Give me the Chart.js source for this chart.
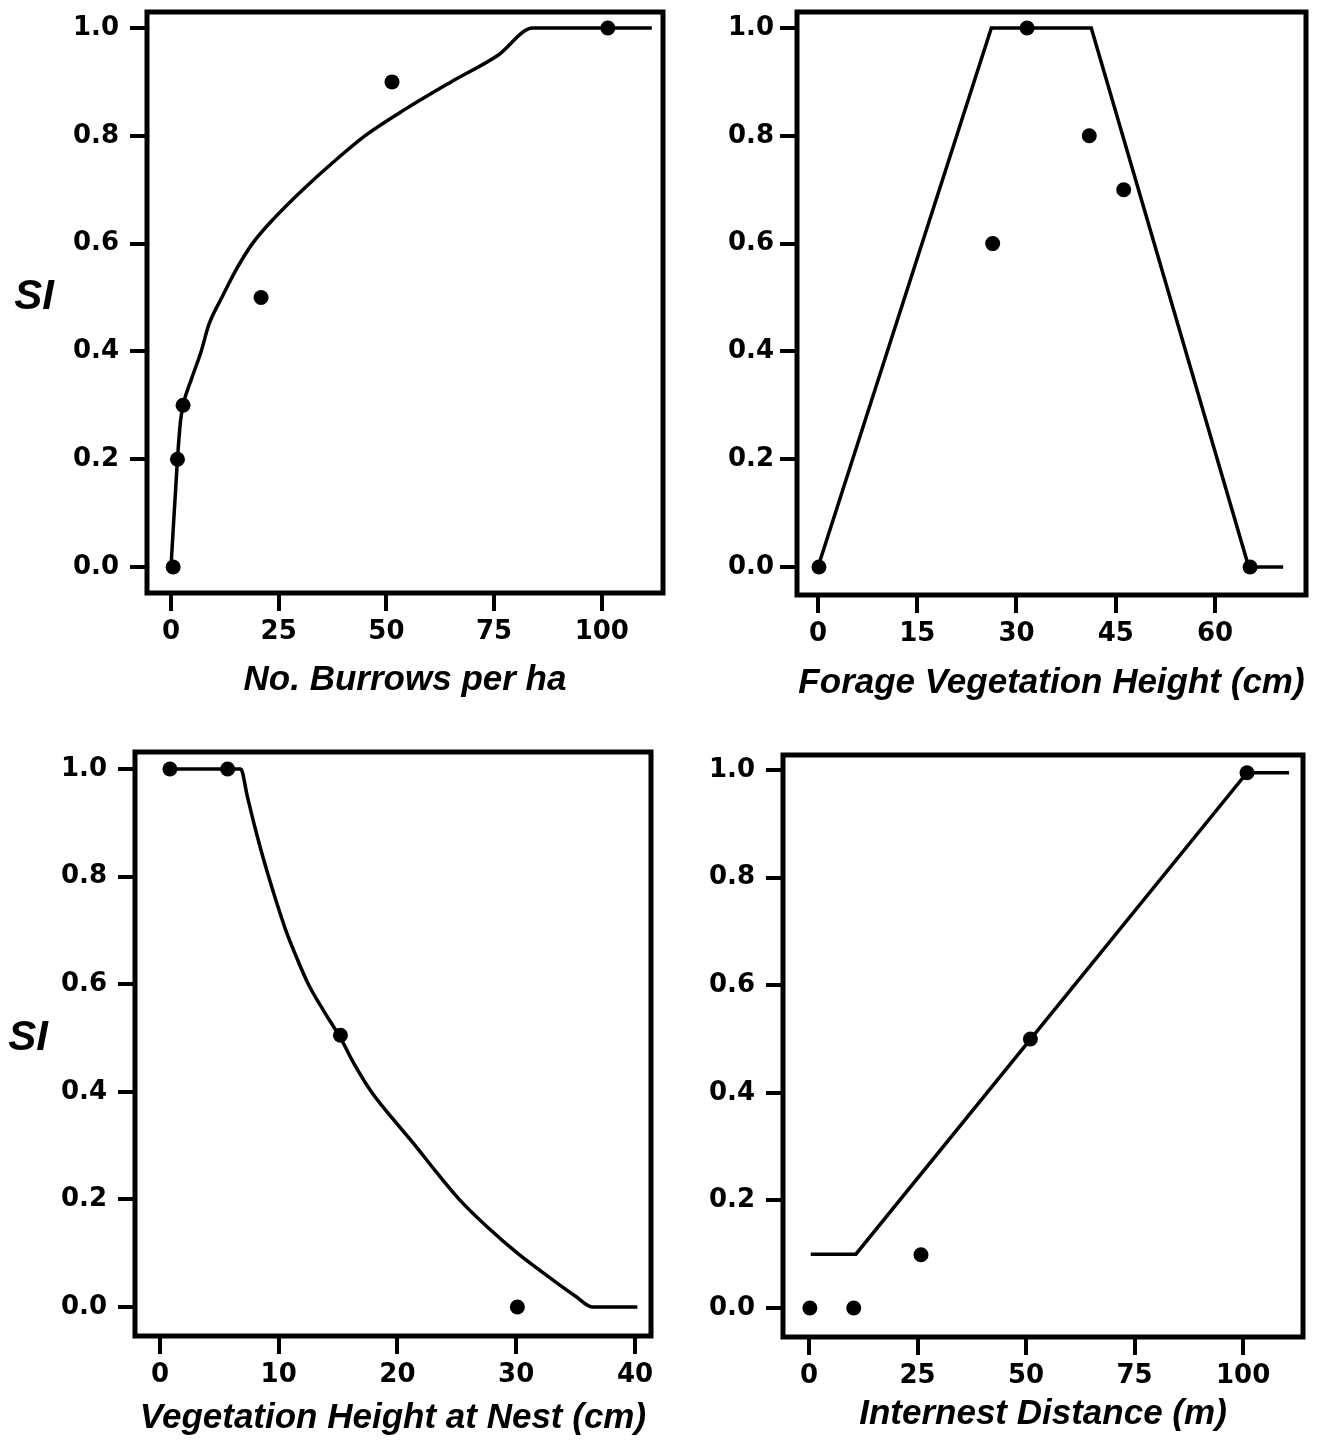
<!DOCTYPE html>
<html lang="en">
<head>
    <meta charset="UTF-8">
    <title>Suitability Index curves</title>
    <script src="https://cdn.jsdelivr.net/npm/chart.js"></script>
    <style>
        body {
            margin: 0;
            background-color: #fff;
        }
        #wrap {
            position: relative;
            width: 1317px;
            height: 1444px;
        }
        #wrap canvas {
            position: absolute;
        }
    </style>
</head>
<body>
    <div id="wrap">
        <canvas id="burrows" width="700" height="720" style="left:0;top:0"></canvas>
        <canvas id="forage" width="617" height="720" style="left:700px;top:0"></canvas>
        <canvas id="nestVeg" width="700" height="724" style="left:0;top:720px"></canvas>
        <canvas id="internest" width="617" height="724" style="left:700px;top:720px"></canvas>
    </div>

    <script>
        // SI tick labels shared by every panel
        const siTicks = [0, 0.2, 0.4, 0.6, 0.8, 1.0];

        // No. Burrows per ha
        const burrowsTicks = [0, 25, 50, 75, 100];
        const burrowsCurveX = [0, 1.5, 2.2, 2.8, 4.8, 7.0, 8.8, 11.8, 15, 18.9, 24.3, 30.6, 37.5, 45, 54.5, 65, 76, 84, 111.6];
        const burrowsCurveY = [0, 0.2, 0.27, 0.3, 0.35, 0.4, 0.45, 0.5, 0.55, 0.6, 0.65, 0.7, 0.75, 0.8, 0.85, 0.9, 0.95, 1.0, 1.0];
        const burrowsObsX = [0.5, 1.5, 2.8, 20.9, 51.3, 101.4];
        const burrowsObsY = [0, 0.2, 0.3, 0.5, 0.9, 1.0];

        // Forage Vegetation Height (cm)
        const forageTicks = [0, 15, 30, 45, 60];
        const forageCurveX = [0, 26.2, 41.3, 65.1, 70.3];
        const forageCurveY = [0, 1.0, 1.0, 0, 0];
        const forageObsX = [0.15, 26.4, 31.6, 41.0, 46.2, 65.3];
        const forageObsY = [0, 0.6, 1.0, 0.8, 0.7, 0];

        // Vegetation Height at Nest (cm)
        const nestTicks = [0, 10, 20, 30, 40];
        const nestCurveX = [0.84, 6.8, 7.35, 7.9, 8.5, 9.15, 9.85, 10.6, 11.5, 12.5, 13.8, 15.2, 16.4, 17.8, 19.6, 21.5, 23.3, 25.2, 27.5, 30.1, 33.1, 35.0, 36.4, 40.2];
        const nestCurveY = [1.0, 1.0, 0.95, 0.9, 0.85, 0.8, 0.75, 0.7, 0.65, 0.6, 0.55, 0.5, 0.45, 0.4, 0.35, 0.3, 0.25, 0.2, 0.15, 0.1, 0.05, 0.02, 0, 0];
        const nestObsX = [0.84, 5.7, 15.2, 30.1];
        const nestObsY = [1.0, 1.0, 0.505, 0];

        // Internest Distance (m)
        const internestTicks = [0, 25, 50, 75, 100];
        const internestCurveX = [0.4, 10.8, 100.9, 110.6];
        const internestCurveY = [0.1, 0.1, 0.995, 0.995];
        const internestObsX = [0.2, 10.3, 25.8, 51.0, 100.9];
        const internestObsY = [0, 0, 0.099, 0.5, 0.995];

        function pairs(xs, ys) {
            return xs.map((x, i) => ({ x: x, y: ys[i] }));
        }

        // Frame around the plot area and the horizontal "SI" label
        const framePlugin = {
            id: 'frame',
            afterDraw(chart, args, opts) {
                const { ctx, chartArea: a } = chart;
                ctx.save();
                ctx.strokeStyle = '#000';
                ctx.lineWidth = 5;
                ctx.strokeRect(a.left, a.top, a.right - a.left, a.bottom - a.top);
                if (opts.label) {
                    ctx.fillStyle = '#000';
                    ctx.font = 'italic bold 42px "Liberation Sans", Arial, sans-serif';
                    ctx.textAlign = 'center';
                    ctx.textBaseline = 'middle';
                    ctx.fillText(opts.label, opts.labelX, chart.scales.y.getPixelForValue(0.5));
                }
                ctx.restore();
            }
        };

        function makePanel(id, p) {
            return new Chart(document.getElementById(id), {
                type: 'scatter',
                data: {
                    datasets: [{
                        data: pairs(p.curveX, p.curveY),
                        showLine: true,
                        borderColor: '#000',
                        borderWidth: 3.5,
                        pointRadius: 0,
                        cubicInterpolationMode: p.smooth ? 'monotone' : 'default',
                        tension: 0
                    }, {
                        data: pairs(p.obsX, p.obsY),
                        pointRadius: 7.5,
                        pointBackgroundColor: '#000',
                        pointBorderWidth: 0
                    }]
                },
                options: {
                    responsive: false,
                    animation: false,
                    layout: { padding: p.padding },
                    plugins: {
                        legend: { display: false },
                        tooltip: { enabled: false },
                        frame: { label: p.siLabel, labelX: p.siX }
                    },
                    scales: {
                        x: {
                            type: 'linear',
                            min: p.xMin,
                            max: p.xMax,
                            afterBuildTicks: s => { s.ticks = p.xTicks.map(v => ({ value: v })); },
                            afterFit: s => { s.height = p.xHeight; s.paddingLeft = 0; s.paddingRight = 0; },
                            ticks: {
                                autoSkip: false,
                                maxRotation: 0,
                                padding: 6,
                                color: '#000',
                                font: { family: 'DejaVu Sans', weight: 'bold', size: 26 },
                                callback: v => String(v)
                            },
                            grid: { drawOnChartArea: false, tickLength: 18, lineWidth: 4, color: '#000' },
                            border: { display: false },
                            title: {
                                display: true,
                                text: p.xTitle,
                                color: '#000',
                                padding: 0,
                                font: { family: 'Liberation Sans', weight: 'bold', style: 'italic', size: 35 }
                            }
                        },
                        y: {
                            min: p.yMin,
                            max: p.yMax,
                            afterBuildTicks: s => { s.ticks = siTicks.map(v => ({ value: v })); },
                            afterFit: s => { s.width = p.yWidth; s.paddingTop = 0; s.paddingBottom = 0; },
                            ticks: {
                                autoSkip: false,
                                padding: p.yPad,
                                color: '#000',
                                font: { family: 'DejaVu Sans', weight: 'bold', size: 26 },
                                callback: v => v.toFixed(1)
                            },
                            grid: { drawOnChartArea: false, tickLength: 17, lineWidth: 4, color: '#000' },
                            border: { display: false }
                        }
                    }
                },
                plugins: [framePlugin]
            });
        }

        makePanel('burrows', {
            curveX: burrowsCurveX, curveY: burrowsCurveY, obsX: burrowsObsX, obsY: burrowsObsY, smooth: true,
            xTicks: burrowsTicks, xMin: -5.57, xMax: 114.2, yMin: -0.0482, yMax: 1.0297,
            xTitle: 'No. Burrows per ha', siLabel: 'SI', siX: 34,
            yWidth: 147, xHeight: 108, yPad: 11,
            padding: { left: 0, top: 12, right: 37, bottom: 19 }
        });

        makePanel('forage', {
            curveX: forageCurveX, curveY: forageCurveY, obsX: forageObsX, obsY: forageObsY, smooth: false,
            xTicks: forageTicks, xMin: -3.17, xMax: 73.75, yMin: -0.052, yMax: 1.0297,
            xTitle: 'Forage Vegetation Height (cm)', siLabel: '', siX: 0,
            yWidth: 97, xHeight: 109, yPad: 6,
            padding: { left: 0, top: 12, right: 11, bottom: 16 }
        });

        makePanel('nestVeg', {
            curveX: nestCurveX, curveY: nestCurveY, obsX: nestObsX, obsY: nestObsY, smooth: true,
            xTicks: nestTicks, xMin: -2.1, xMax: 41.35, yMin: -0.054, yMax: 1.0316,
            xTitle: 'Vegetation Height at Nest (cm)', siLabel: 'SI', siX: 28,
            yWidth: 135, xHeight: 103, yPad: 11,
            padding: { left: 0, top: 32, right: 49, bottom: 5 }
        });

        makePanel('internest', {
            curveX: internestCurveX, curveY: internestCurveY, obsX: internestObsX, obsY: internestObsY, smooth: false,
            xTicks: internestTicks, xMin: -5.99, xMax: 113.8, yMin: -0.054, yMax: 1.028,
            xTitle: 'Internest Distance (m)', siLabel: '', siX: 0,
            yWidth: 83, xHeight: 98, yPad: 11,
            padding: { left: 0, top: 35, right: 14, bottom: 9 }
        });
    </script>
</body>
</html>
